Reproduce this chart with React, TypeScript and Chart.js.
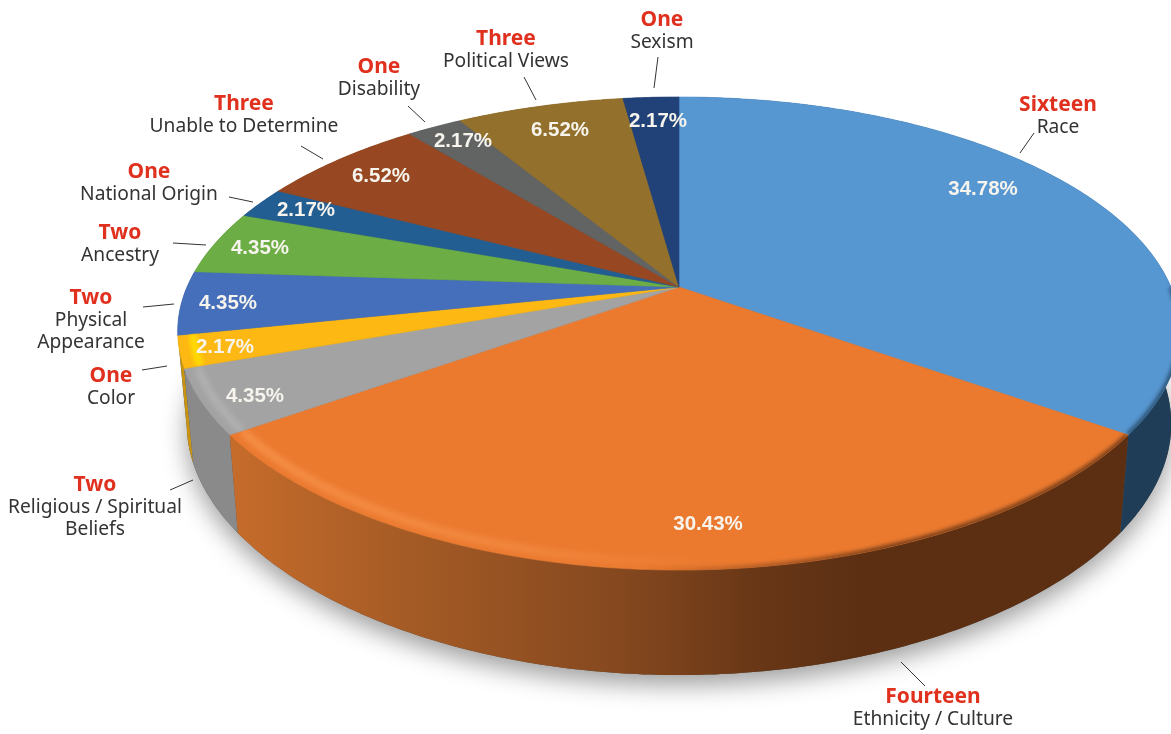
import React, { useEffect, useRef } from "react";
import { Chart, registerables } from "chart.js";

Chart.register(...registerables);

const categories = [
  "Race", "Ethnicity / Culture", "Religious / Spiritual Beliefs", "Color", "Physical Appearance",
  "Ancestry", "National Origin", "Unable to Determine", "Disability", "Political Views", "Sexism",
];
const counts = [16, 14, 2, 1, 2, 2, 1, 3, 1, 3, 1];
const countWords = ["Sixteen", "Fourteen", "Two", "One", "Two", "Two", "One", "Three", "One", "Three", "One"];
const categoryLines = [
  ["Race"], ["Ethnicity / Culture"], ["Religious / Spiritual", "Beliefs"], ["Color"], ["Physical", "Appearance"],
  ["Ancestry"], ["National Origin"], ["Unable to Determine"], ["Disability"], ["Political Views"], ["Sexism"],
];
const topColors = ["#5797D1", "#EB7A2F", "#A3A3A3", "#FDB813", "#456FBA", "#6CAD45", "#235E92", "#974822", "#626363", "#93712C", "#214278"];
const wallColors = ["#1F3D57", "#8A4A20", "#8A8A8A", "#C8930F", "#2F4E85", "#4B7A30", "#173F63", "#6A3216", "#444444", "#664E1E", "#162D52"];

// Layout of annotation text (separate from the data)
const pctPos: number[][] = [[983, 189], [708, 524], [255, 396], [225, 347], [228, 303], [260, 248], [306, 210], [381, 176], [463, 141], [560, 130], [658, 121]];
const labelPos: number[][] = [[1058, 105], [933, 697], [95, 485], [111, 376], [91, 298], [120, 233], [149, 172], [244, 104], [379, 67], [506, 39], [662, 20]];
const leaders: number[][] = [
  [1034, 133, 1020, 153], [901, 662, 925, 686], [170, 490, 193, 480], [142, 370, 167, 366], [143, 307, 174, 304],
  [173, 243, 206, 245], [229, 197, 253, 202], [301, 146, 323, 159], [408, 106, 425, 122], [524, 77, 536, 100], [658, 57, 654, 88],
];

// Perspective model of the disc
const CX = 679, CY = 287, R = 492, H = 227.4, K = 0.1966, FRONT = 0.027;
const BX = 0.982, BA = 90.3, BB = 0.052;

function topPt(a: number, f = 1): [number, number] {
  const u = Math.cos(a) * f, v = Math.sin(a) * f;
  const s = 1 / (1 - K * v);
  const pinch = v > 0 ? 1 - FRONT * v * v : 1;
  return [CX + R * u * s * pinch, CY + H * v * s];
}
function botPt(a: number, f = 1): [number, number] {
  const [x, y] = topPt(a, f);
  return [CX + (x - CX) * BX, y + BA + BB * (y - CY)];
}
function arcPts(fn: (a: number, f?: number) => [number, number], a0: number, a1: number, f = 1) {
  const n = Math.max(4, Math.ceil(Math.abs(a1 - a0) * 90));
  const out: [number, number][] = [];
  for (let i = 0; i <= n; i++) out.push(fn(a0 + ((a1 - a0) * i) / n, f));
  return out;
}
function trace(ctx: CanvasRenderingContext2D, pts: [number, number][], start = true) {
  pts.forEach((p, i) => (i === 0 && start ? ctx.moveTo(p[0], p[1]) : ctx.lineTo(p[0], p[1])));
}
function hGrad(ctx: CanvasRenderingContext2D, x0: number, x1: number, stops: [number, string][]) {
  const g = ctx.createLinearGradient(x0, 0, x1, 0);
  stops.forEach(([o, c]) => g.addColorStop(o, c));
  return g;
}

const perspectivePie = {
  id: "perspectivePie",
  beforeDatasetDraw(chart: any) {
    const ctx: CanvasRenderingContext2D = chart.ctx;
    const arcs = chart.getDatasetMeta(0).data as any[];
    ctx.save();

    // soft shadow under the disc
    ctx.save();
    ctx.shadowColor = "rgba(0,0,0,0.38)";
    ctx.shadowBlur = 24;
    ctx.shadowOffsetY = 10;
    ctx.fillStyle = "#555";
    ctx.beginPath();
    trace(ctx, arcPts(botPt, 0, Math.PI * 2));
    ctx.closePath();
    ctx.fill();
    ctx.restore();

    // walls, back to front
    const order = arcs.map((_, i) => i).sort((p, q) => {
      const mid = (i: number) => Math.sin((arcs[i].startAngle + arcs[i].endAngle) / 2);
      return mid(p) - mid(q);
    });
    for (const i of order) {
      const { startAngle: a0, endAngle: a1 } = arcs[i];
      ctx.beginPath();
      trace(ctx, arcPts(topPt, a0, a1));
      trace(ctx, arcPts(botPt, a1, a0), false);
      ctx.closePath();
      ctx.fillStyle =
        i === 1
          ? hGrad(ctx, 230, 860, [[0, "#C66C2B"], [0.3, "#A35A25"], [0.62, "#85481F"], [0.85, "#673616"], [1, "#5C2F13"]])
          : wallColors[i];
      ctx.fill();
    }

    // top face
    arcs.forEach((arc, i) => {
      ctx.beginPath();
      ctx.moveTo(CX, CY);
      trace(ctx, arcPts(topPt, arc.startAngle, arc.endAngle), false);
      ctx.closePath();
      ctx.fillStyle = topColors[i];
      ctx.strokeStyle = topColors[i];
      ctx.lineWidth = 0.6;
      ctx.fill();
      ctx.stroke();
    });

    // bevel on the rim
    const bevel = (i: number, f: number, w: number, style: any, from = 0, to = 1, blur = 2) => {
      const arc = arcs[i];
      const a0 = arc.startAngle + (arc.endAngle - arc.startAngle) * from;
      const a1 = arc.startAngle + (arc.endAngle - arc.startAngle) * to;
      ctx.save();
      ctx.beginPath();
      ctx.moveTo(CX, CY);
      trace(ctx, arcPts(topPt, arc.startAngle, arc.endAngle), false);
      ctx.closePath();
      ctx.clip();
      ctx.filter = `blur(${blur}px)`;
      ctx.beginPath();
      trace(ctx, arcPts(topPt, a0, a1, f));
      ctx.strokeStyle = style;
      ctx.lineWidth = w;
      ctx.stroke();
      ctx.restore();
    };
    bevel(1, 0.975, 7, hGrad(ctx, 235, 720, [[0, "rgba(255,160,90,0.65)"], [0.6, "rgba(255,160,90,0.4)"], [1, "rgba(255,160,90,0)"]]), 0, 1, 3);
    bevel(1, 1.0, 5, hGrad(ctx, 640, 880, [[0, "rgba(92,47,19,0)"], [1, "rgba(92,47,19,0.9)"]]));
    bevel(0, 1.0, 5, "rgba(31,61,87,0.85)", 0.72, 1);
    bevel(2, 0.975, 6, "rgba(200,200,200,0.5)", 0, 1, 3);
    bevel(3, 0.97, 8, "rgba(255,220,0,0.95)");

    ctx.restore();
    return false;
  },
  afterDraw(chart: any) {
    const ctx: CanvasRenderingContext2D = chart.ctx;
    const total = counts.reduce((s, v) => s + v, 0);
    ctx.save();
    ctx.textAlign = "center";
    ctx.textBaseline = "middle";

    // leader lines
    ctx.strokeStyle = "#333";
    ctx.lineWidth = 1;
    leaders.forEach(([x0, y0, x1, y1]) => {
      ctx.beginPath();
      ctx.moveTo(x0, y0);
      ctx.lineTo(x1, y1);
      ctx.stroke();
    });

    // percentage labels
    ctx.fillStyle = "#F7F4EE";
    ctx.font = 'bold 20.5px "Liberation Sans"';
    counts.forEach((c, i) => {
      ctx.fillText(((c / total) * 100).toFixed(2) + "%", pctPos[i][0], pctPos[i][1]);
    });

    // outside labels
    counts.forEach((_, i) => {
      const [x, y] = labelPos[i];
      ctx.fillStyle = "#E0301E";
      ctx.font = 'bold 21px "Noto Sans"';
      ctx.fillText(countWords[i], x, y);
      ctx.fillStyle = "#333333";
      ctx.font = '19.2px "Noto Sans"';
      categoryLines[i].forEach((line, j) => ctx.fillText(line, x, y + 23 + j * 22));
    });
    ctx.restore();
  },
};

export default function App() {
  const ref = useRef<HTMLCanvasElement>(null);
  useEffect(() => {
    const chart = new Chart(ref.current!, {
      type: "pie",
      data: { labels: categories, datasets: [{ data: counts, backgroundColor: topColors, borderWidth: 0 }] },
      options: {
        animation: false,
        responsive: false,
        plugins: { legend: { display: false }, tooltip: { enabled: false } },
      },
      plugins: [perspectivePie as any],
    });
    return () => chart.destroy();
  }, []);
  return (
    <canvas
      ref={ref}
      width={1171}
      height={734}
      style={{ position: "fixed", left: 0, top: 0, display: "block", width: 1171, height: 734 }}
    />
  );
}
